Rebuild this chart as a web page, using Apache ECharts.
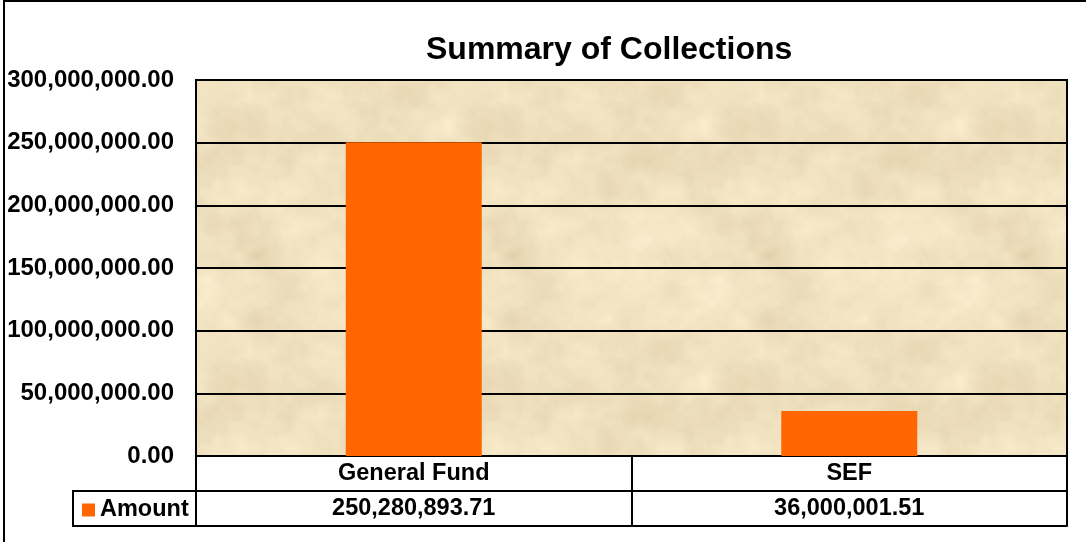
<!DOCTYPE html>
<html>
<head>
<meta charset="utf-8">
<script src="https://cdn.jsdelivr.net/npm/echarts@6/dist/echarts.min.js"></script>
<style>
html,body{margin:0;padding:0;background:#fff;}
#chart{width:1086px;height:542px;}
</style>
</head>
<body>
<div id="chart"></div>
<script>
// ---- data ----
var categories = ['General Fund', 'SEF'];
var amounts = [250280893.71, 36000001.51];
var seriesName = 'Amount';
var titleText = 'Summary of Collections';
var yMin = 0, yMax = 300000000, yStep = 50000000;

function fmt(v) {
  return Number(v).toLocaleString('en-US', {minimumFractionDigits: 2, maximumFractionDigits: 2});
}

// parchment-like texture (deterministic)
function makeTexture() {
  var w = 256, h = 256;
  var c = document.createElement('canvas');
  c.width = w; c.height = h;
  var ctx = c.getContext('2d');
  var img = ctx.createImageData(w, h);
  function hash(x, y) {
    var s = Math.sin(x * 127.1 + y * 311.7) * 43758.5453;
    return s - Math.floor(s);
  }
  function smooth(x, y, p) {
    var xi = Math.floor(x), yi = Math.floor(y);
    var xf = x - xi, yf = y - yi;
    var u = xf * xf * (3 - 2 * xf), v = yf * yf * (3 - 2 * yf);
    var a = hash(xi % p, yi % p), b = hash((xi + 1) % p, yi % p);
    var cc = hash(xi % p, (yi + 1) % p), d = hash((xi + 1) % p, (yi + 1) % p);
    return a + (b - a) * u + (cc - a) * v + (a - b - cc + d) * u * v;
  }
  for (var y = 0; y < h; y++) {
    for (var x = 0; x < w; x++) {
      var n = 0, amp = 0.5, f = 8, tot = 0;
      for (var o = 0; o < 5; o++) {
        n += amp * smooth(x / w * f, y / h * f, f);
        tot += amp; amp *= 0.55; f *= 2;
      }
      n = n / tot - 0.5;
      var i = (y * w + x) * 4;
      img.data[i] = 240 + n * 30;
      img.data[i + 1] = 225 + n * 34;
      img.data[i + 2] = 191 + n * 40;
      img.data[i + 3] = 255;
    }
  }
  ctx.putImageData(img, 0, 0);
  return c;
}

var chart = echarts.init(document.getElementById('chart'), null, {renderer: 'canvas'});
var FONT = 'Arial, "Liberation Sans", Helvetica, sans-serif';
var gridLeft = 196, gridTop = 80, gridRight = 19, gridBottom = 86;
var rowH = 35;
var YLBL = 24, TLBL = 23.5, LEG = 23.5;

var option = {
  backgroundColor: '#ffffff',
  animation: false,
  textStyle: {fontFamily: FONT},
  title: {
    text: titleText,
    left: 421, top: 29,
    textStyle: {fontFamily: FONT, fontSize: 32, fontWeight: 'bold', color: '#000'}
  },
  legend: {
    data: [seriesName],
    left: 82, top: 498, padding: 0,
    icon: 'rect', itemWidth: 13, itemHeight: 13,
    textStyle: {fontFamily: FONT, fontSize: LEG, fontWeight: 'bold', color: '#000'},
    selectedMode: false
  },
  grid: {
    left: gridLeft, top: gridTop, right: gridRight, bottom: gridBottom,
    show: true,
    backgroundColor: {image: makeTexture(), repeat: 'repeat'},
    borderColor: '#000', borderWidth: 2
  },
  xAxis: [
    {
      type: 'category', data: categories, position: 'bottom',
      axisLine: {show: true, lineStyle: {color: '#000', width: 2}},
      axisTick: {show: true, length: rowH, inside: false, lineStyle: {color: '#000', width: 2}},
      axisLabel: {margin: 6, fontFamily: FONT, fontSize: TLBL, fontWeight: 'bold', color: '#000'}
    },
    {
      type: 'category', data: categories, position: 'bottom', offset: rowH,
      axisLine: {show: true, lineStyle: {color: '#000', width: 2}},
      axisTick: {show: true, length: rowH, inside: false, lineStyle: {color: '#000', width: 2}},
      axisLabel: {
        margin: 6, fontFamily: FONT, fontSize: TLBL, fontWeight: 'bold', color: '#000',
        formatter: function (v, idx) { return fmt(amounts[idx]); }
      }
    },
    {
      type: 'category', data: categories, position: 'bottom', offset: rowH * 2,
      axisLine: {show: true, lineStyle: {color: '#000', width: 2}},
      axisTick: {show: false}, axisLabel: {show: false}
    }
  ],
  yAxis: {
    type: 'value', min: yMin, max: yMax, interval: yStep,
    axisLine: {show: true, lineStyle: {color: '#000', width: 2}},
    axisTick: {show: false},
    splitLine: {show: true, lineStyle: {color: '#000', width: 2}},
    axisLabel: {
      margin: 22, fontFamily: FONT, fontSize: YLBL, fontWeight: 'bold', color: '#000',
      formatter: function (v) { return fmt(v); }
    }
  },
  series: [{
    name: seriesName, type: 'bar', xAxisIndex: 0,
    data: amounts, barWidth: 136,
    itemStyle: {color: '#FF6600'}
  }],
  graphic: [
    {
      type: 'rect', silent: true,
      shape: {x: 4, y: 1, width: 1200, height: 700},
      style: {fill: null, stroke: '#000', lineWidth: 2}
    },
    {
      type: 'rect', silent: true,
      shape: {x: 73, y: 542 - gridBottom + rowH, width: gridLeft - 73, height: rowH},
      style: {fill: null, stroke: '#000', lineWidth: 2}
    }
  ]
};
chart.setOption(option);
</script>
</body>
</html>
